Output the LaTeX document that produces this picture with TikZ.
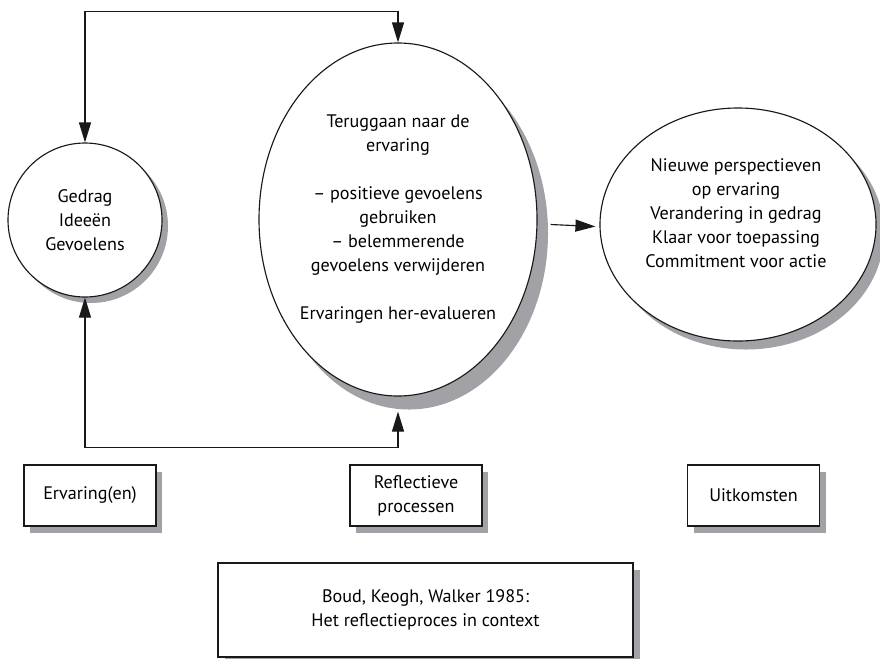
\documentclass[tikz,border=0pt]{standalone}
\usepackage{fontspec}
\setmainfont{PT Sans}
\usetikzlibrary{arrows.meta,calc,shapes.geometric}
\definecolor{shadowgrey}{RGB}{162,162,166}
\definecolor{inkc}{RGB}{25,25,27}
\tikzset{
  txt/.style={font=\fontsize{13.6}{18}\selectfont, align=center, text=black, inner sep=0pt},
  shad/.style={fill=shadowgrey, draw=none},
  outl/.style={draw=inkc, line width=0.85pt, fill=white},
  circshape/.style={circle, minimum size=115.5pt, inner sep=0pt},
  bigell/.style={ellipse, minimum width=208.5pt, minimum height=264.75pt, inner sep=0pt},
  outell/.style={ellipse, minimum width=207pt, minimum height=174.75pt, inner sep=0pt},
  smallbox/.style={rectangle, minimum width=99pt, minimum height=45.75pt, inner sep=0pt},
  citebox/.style={rectangle, minimum width=311.25pt, minimum height=70.5pt, inner sep=0pt},
  conn/.style={draw=inkc, line width=0.85pt, {Triangle[length=15pt,width=9pt]}-{Triangle[length=15pt,width=9pt]}},
  oneway/.style={draw=inkc, line width=0.85pt, -{Triangle[length=15pt,width=9pt]}}
}
\begin{document}
\begin{tikzpicture}[x=0.75pt,y=-0.75pt]
\useasboundingbox (0,0) rectangle (880,658);

% shadows
\node[shad, circshape] (circS) at (91,226) {};
\node[shad, bigell] (ellS) at (409,233) {};
\node[shad, outell] (outS) at (746,233) {};
\node[shad, smallbox] (b1S) at (96,502.5) {};
\node[shad, smallbox] (b2S) at (422,502.5) {};
\node[shad, smallbox] (b3S) at (759.5,502.5) {};
\node[shad, citebox] (b4S) at (432,617) {};

% main shapes
\node[outl, circshape, txt] (circ) at (85,220) {Gedrag\\Ideeën\\Gevoelens};
\node[outl, bigell, txt] (ell) at (398,219.5) {Teruggaan naar de\\ervaring\\[18pt]– positieve gevoelens\\gebruiken\\– belemmerende\\gevoelens verwijderen\\[18pt]Ervaringen her-evalueren};
\node[outl, outell] (out) at (738,224.5) {};
\node[txt] (outtxt) at (736,213) {Nieuwe perspectieven\\op ervaring\\Verandering in gedrag\\Klaar voor toepassing\\Commitment voor actie};

\node[outl, smallbox, txt] (b1) at (90,495.5) {Ervaring(en)};
\node[outl, smallbox, txt] (b2) at (416,495.5) {Reflectieve\\processen};
\node[outl, smallbox, txt] (b3) at (753.5,495.5) {Uitkomsten};
\node[outl, citebox, txt] (b4) at (425.5,610) {Boud, Keogh, Walker 1985:\\Het reflectieproces in context};

% connectors
\draw[conn] (circ.north) -- ++(0,-131) -| (ell.north);
\draw[conn] (circ.south) -- ++(0,150) -| ($(ell.south)+(0,15)$);
\draw[oneway] ($(ell.east)+(13,5)$) -- ($(out.west)+(-4,2)$);
\end{tikzpicture}
\end{document}
